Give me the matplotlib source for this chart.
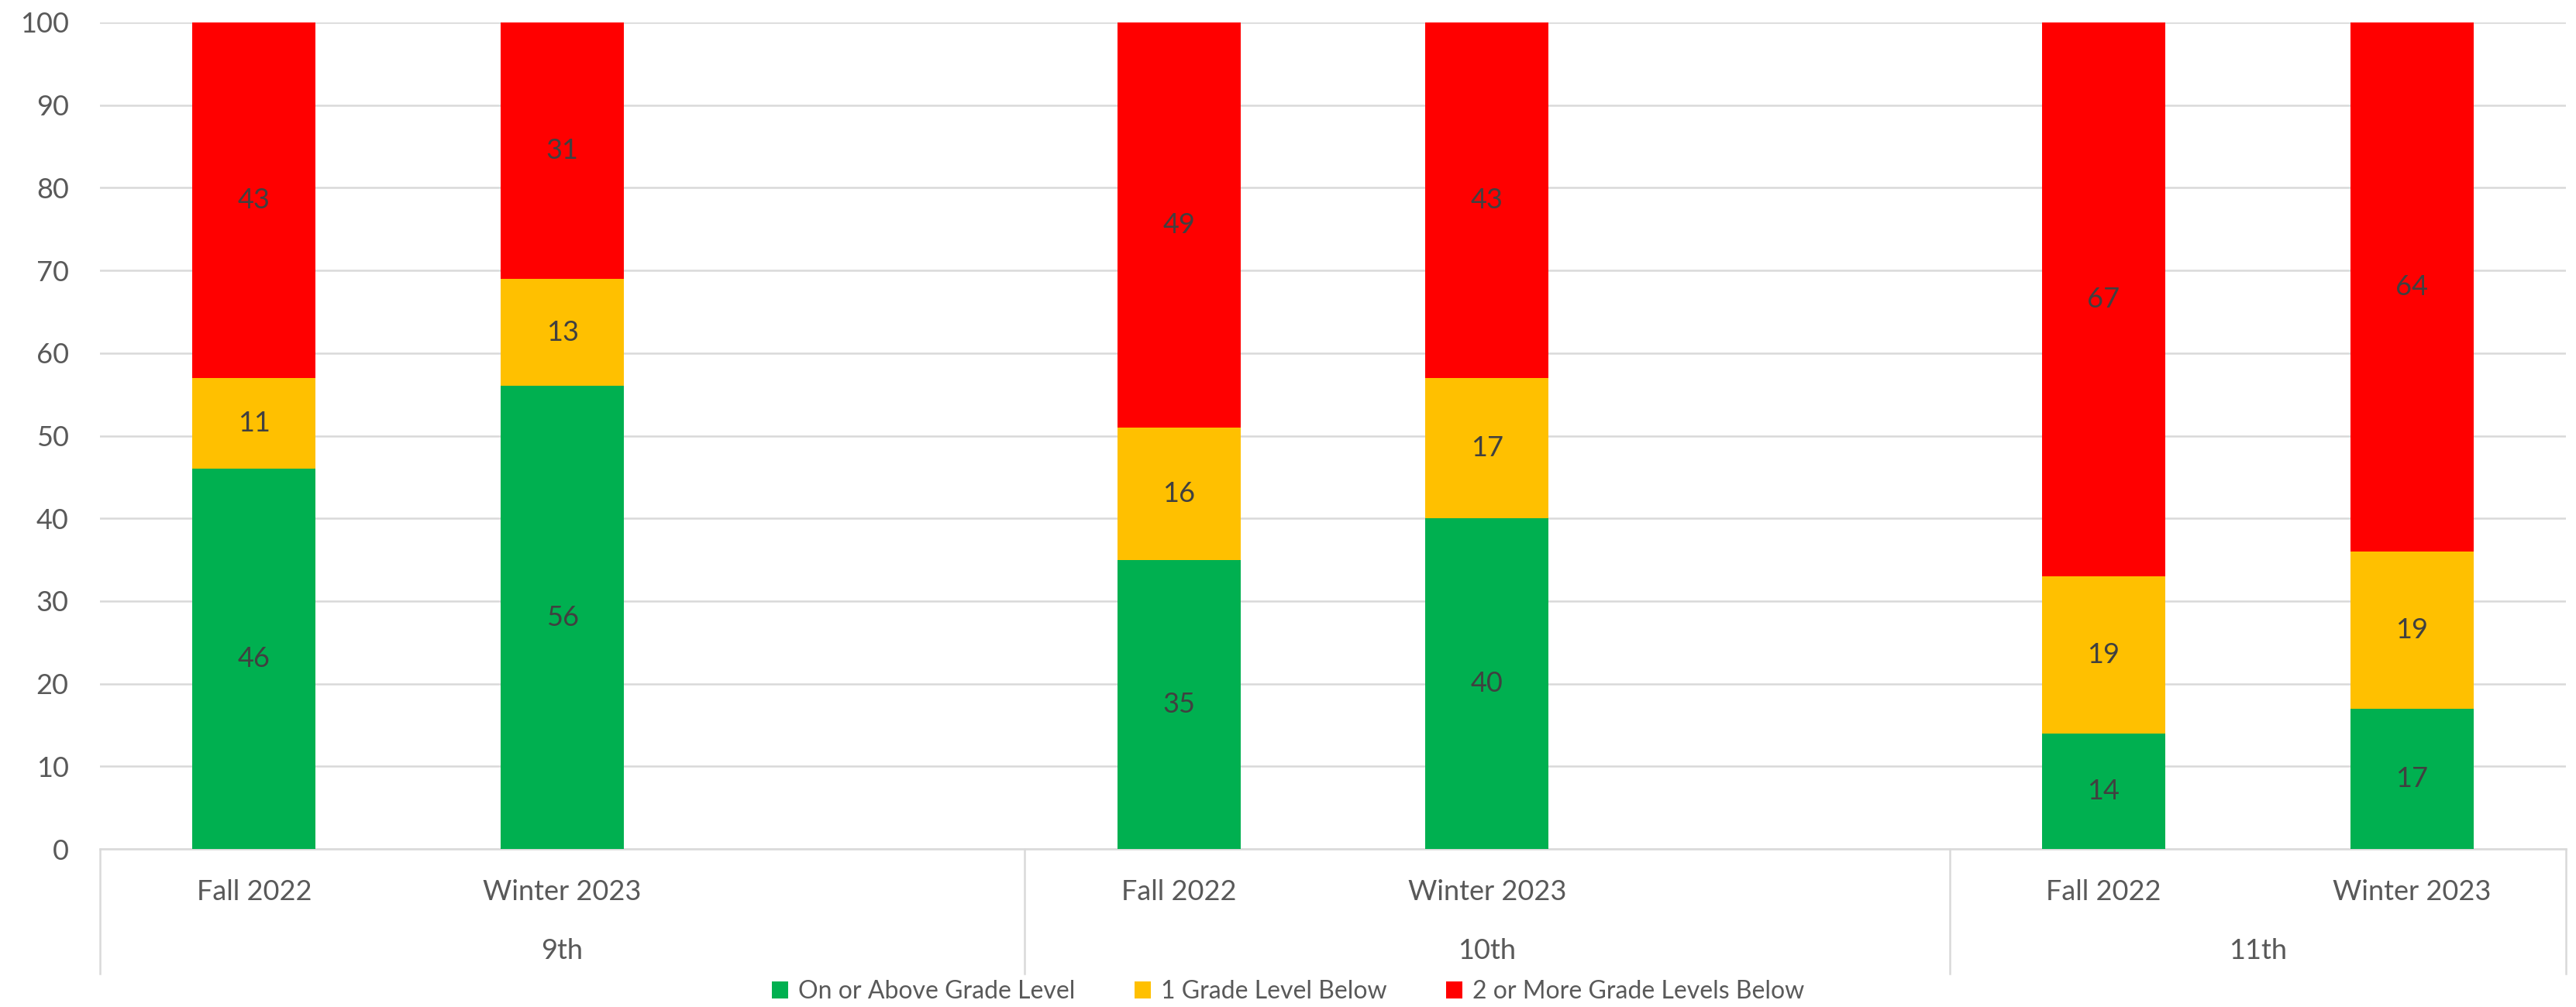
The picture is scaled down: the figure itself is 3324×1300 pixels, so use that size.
import matplotlib.pyplot as plt
import matplotlib.transforms as mtransforms
from matplotlib.patches import Patch

plt.rcParams['font.family'] = ['Lato', 'DejaVu Sans']

grades = ["9th", "10th", "11th"]
terms = ["Fall 2022", "Winter 2023"]
on_level = [46, 56, 35, 40, 14, 17]
one_below = [11, 13, 16, 17, 19, 19]
two_below = [43, 31, 49, 43, 67, 64]
series_names = ["On or Above Grade Level", "1 Grade Level Below", "2 or More Grade Levels Below"]
colors = ["#00B050", "#FFC000", "#FF0000"]

# each grade takes two category slots plus an empty spacer slot (none after the last grade)
xpos = [g * 3 + t for g in range(len(grades)) for t in range(len(terms))]
n_slots = 3 * len(grades) - 1
group_edges = [-0.5] + [g * 3 + 2.5 for g in range(len(grades) - 1)] + [n_slots - 0.5]

fig = plt.figure(figsize=(33.24, 13), dpi=100)
ax = fig.add_axes([129 / 3324, 1 - 1096 / 1300, (3311 - 129) / 3324, (1096 - 29) / 1300])

bottom = [0] * len(xpos)
for vals, col in zip([on_level, one_below, two_below], colors):
    ax.bar(xpos, vals, 0.4, bottom=bottom, color=col, zorder=3)
    for x, b, v in zip(xpos, bottom, vals):
        ax.text(x, b + v / 2, str(v), ha="center", va="center", fontsize=26, color="#404040", zorder=4)
    bottom = [b + v for b, v in zip(bottom, vals)]

ax.set_xlim(-0.5, n_slots - 0.5)
ax.set_ylim(0, 100)
ax.set_yticks(range(0, 101, 10))
ax.yaxis.grid(True, color="#D9D9D9", linewidth=1.8, zorder=0)
ax.tick_params(axis="y", length=0, pad=29, labelsize=26, labelcolor="#595959")
ax.set_xticks([])
for s in ["top", "right", "left"]:
    ax.spines[s].set_visible(False)
ax.spines["bottom"].set_color("#D9D9D9")
ax.spines["bottom"].set_linewidth(1.8)

# two-level category axis
trans = mtransforms.blended_transform_factory(ax.transData, ax.transAxes)
for i, x in enumerate(xpos):
    ax.text(x, -0.052, terms[i % 2], transform=trans, ha="center", va="center",
            fontsize=26, color="#595959")
for g, name in enumerate(grades):
    mid = (group_edges[g] + group_edges[g + 1]) / 2
    ax.text(mid, -0.123, name, transform=trans, ha="center", va="center",
            fontsize=26, color="#595959")
for xs in group_edges:
    ax.plot([xs, xs], [0, -0.151], transform=trans, color="#D9D9D9", linewidth=1.8, clip_on=False)

handles = [Patch(facecolor=c, edgecolor="none") for c in colors]
fig.legend(handles, series_names, loc="center", bbox_to_anchor=(0.5, 1 - 1280 / 1300), ncol=3,
           frameon=False, fontsize=23, labelcolor="#595959", handlelength=0.66, handleheight=0.66,
           handletextpad=0.4, columnspacing=2.4)

fig.savefig("out.png", dpi=100)
